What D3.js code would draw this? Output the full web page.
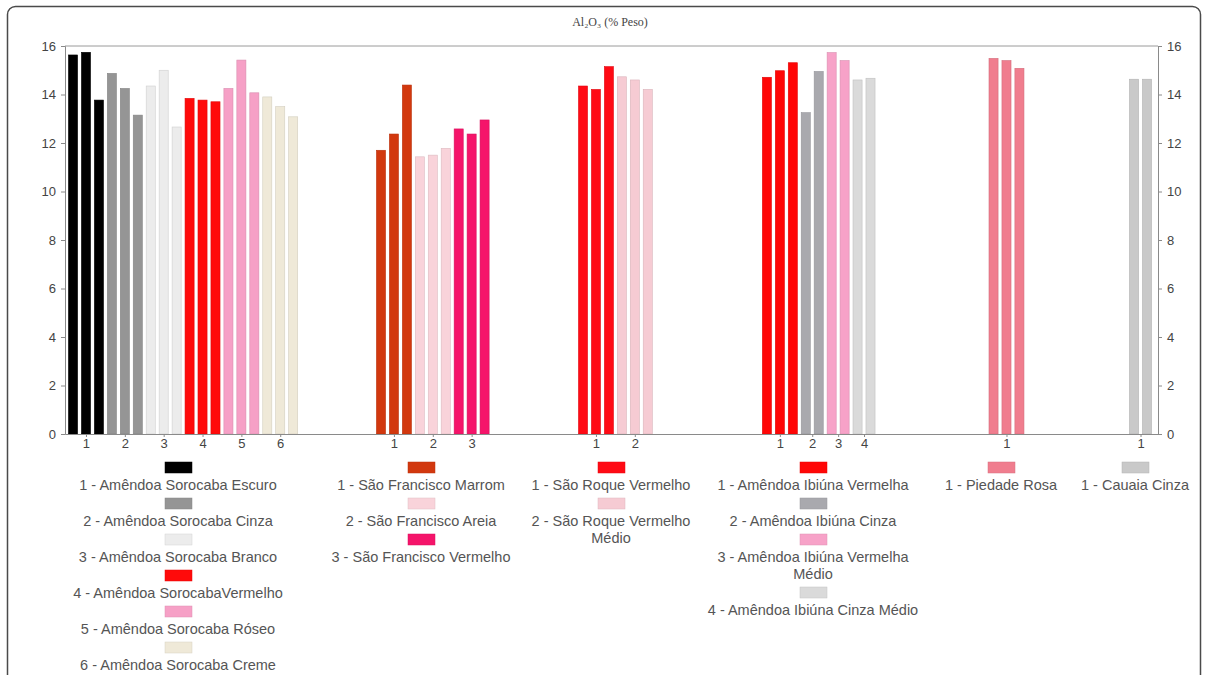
<!DOCTYPE html>
<html>
<head>
<meta charset="utf-8">
<script src="https://cdn.jsdelivr.net/npm/d3@7"></script>
<style>
  html, body { margin: 0; padding: 0; background: #fff; }
  svg { display: block; }
</style>
</head>
<body>
<svg id="chart" width="1207" height="675"></svg>
<script>
// ---------- DATA ----------
const chartTitle = "Al₂O₃ (% Peso)";
const yTicks = [0, 2, 4, 6, 8, 10, 12, 14, 16];

const groupNames = ["Sorocaba", "São Francisco", "São Roque", "Ibiúna", "Piedade", "Cauaia"];

const sorocabaLabels = ["1 - Amêndoa Sorocaba Escuro", "2 - Amêndoa Sorocaba Cinza", "3 - Amêndoa Sorocaba Branco",
                        "4 - Amêndoa SorocabaVermelho", "5 - Amêndoa Sorocaba Róseo", "6 - Amêndoa Sorocaba Creme"];
const sorocabaValues = [[15.63, 15.74, 13.77], [14.87, 14.25, 13.15], [14.35, 15.00, 12.66],
                        [13.84, 13.77, 13.70], [14.25, 15.42, 14.07], [13.90, 13.50, 13.08]];
const sorocabaColors = ["#000000", "#959595", "#ececec", "#ff0a0a", "#f6a0c6", "#efe9d8"];

const franciscoLabels = ["1 - São Francisco Marrom", "2 - São Francisco Areia", "3 - São Francisco Vermelho"];
const franciscoValues = [[11.70, 12.37, 14.39], [11.43, 11.50, 11.78], [12.58, 12.37, 12.95]];
const franciscoColors = ["#d2380e", "#f9d3da", "#f5146a"];

const roqueLabels = ["1 - São Roque Vermelho", "2 - São Roque Vermelho\nMédio"];
const roqueValues = [[14.35, 14.21, 15.15], [14.73, 14.60, 14.21]];
const roqueColors = ["#ff0a14", "#f6cbd3"];

const ibiunaLabels = ["1 - Amêndoa Ibiúna Vermelha", "2 - Amêndoa Ibiúna Cinza",
                      "3 - Amêndoa Ibiúna Vermelha\nMédio", "4 - Amêndoa Ibiúna Cinza Médio"];
const ibiunaValues = [[14.71, 14.98, 15.31], [13.25, 14.95], [15.73, 15.40], [14.60, 14.67]];
const ibiunaColors = ["#ff0606", "#a9a9ae", "#f7a2c8", "#dadada"];

const piedadeLabels = ["1 - Piedade Rosa"];
const piedadeValues = [[15.49, 15.40, 15.08]];
const piedadeColors = ["#f07d8e"];

const cauaiaLabels = ["1 - Cauaia Cinza"];
const cauaiaValues = [[14.63, 14.63]];
const cauaiaColors = ["#c9c9c9"];

// ---------- LAYOUT ----------
const groups = [
  { labels: sorocabaLabels, values: sorocabaValues, colors: sorocabaColors },
  { labels: franciscoLabels, values: franciscoValues, colors: franciscoColors },
  { labels: roqueLabels, values: roqueValues, colors: roqueColors },
  { labels: ibiunaLabels, values: ibiunaValues, colors: ibiunaColors },
  { labels: piedadeLabels, values: piedadeValues, colors: piedadeColors },
  { labels: cauaiaLabels, values: cauaiaValues, colors: cauaiaColors }
];
const groupStartSlot = [0.12, 23.9, 39.5, 53.7, 71.2, 82.05];
const legendCenterX = [178, 421, 611, 813, 1001, 1135];

const plot = { left: 65, right: 1158, top: 46, bottom: 434 };
const svg = d3.select("#chart");

// outer frame
svg.append("rect")
  .attr("x", 7.5).attr("y", 6.5).attr("width", 1193).attr("height", 700)
  .attr("rx", 8).attr("fill", "#fff").attr("stroke", "#4a4a4a").attr("stroke-width", 1.5);

const x = d3.scaleLinear().domain([0, 84.4]).range([plot.left, plot.right]);
const y = d3.scaleLinear().domain([0, 16]).range([plot.bottom, plot.top]);
const slotW = x(1) - x(0);
const barW = slotW * 0.7;

// title
svg.append("text")
  .attr("x", 610).attr("y", 26)
  .attr("text-anchor", "middle")
  .attr("font-family", "Liberation Serif, Times New Roman, serif")
  .attr("font-size", 12).attr("fill", "#444")
  .text(chartTitle);

// plot frame top line
svg.append("line").attr("x1", plot.left).attr("x2", plot.right)
  .attr("y1", plot.top).attr("y2", plot.top).attr("stroke", "#9a9a9a").attr("stroke-width", 1);

// bars
const bars = [];
const sampleTicks = [];
groups.forEach((g, gi) => {
  let slot = groupStartSlot[gi];
  g.values.forEach((vals, si) => {
    const start = slot;
    vals.forEach(v => {
      bars.push({ slot: slot + 0.5, value: v, color: g.colors[si] });
      slot += 1;
    });
    sampleTicks.push({ pos: (start + slot) / 2, label: String(si + 1) });
  });
});

svg.append("g").selectAll("rect").data(bars).join("rect")
  .attr("x", d => x(d.slot) - barW / 2)
  .attr("width", barW)
  .attr("y", d => y(d.value))
  .attr("height", d => y(0) - y(d.value))
  .attr("fill", d => d.color)
  .attr("stroke", d => d3.color(d.color).darker(0.35))
  .attr("stroke-width", 0.6);

// axes
const fontFam = "Liberation Sans, Arial, sans-serif";
const yLeft = svg.append("g").attr("transform", `translate(${plot.left},0)`)
  .call(d3.axisLeft(y).tickValues(yTicks).tickSize(4).tickPadding(5));
const yRight = svg.append("g").attr("transform", `translate(${plot.right},0)`)
  .call(d3.axisRight(y).tickValues(yTicks).tickSize(4).tickPadding(5));
[yLeft, yRight].forEach(a => {
  a.selectAll("path").attr("stroke", "#8a8a8a");
  a.selectAll("line").attr("stroke", "#8a8a8a");
  a.selectAll("text").attr("font-family", fontFam).attr("font-size", 13).attr("fill", "#444");
});

const xAxis = svg.append("g").attr("transform", `translate(0,${plot.bottom})`)
  .call(d3.axisBottom(x).tickValues(sampleTicks.map(d => d.pos))
    .tickFormat((d, i) => sampleTicks[i].label).tickSize(3).tickPadding(2).tickSizeOuter(0));
xAxis.select("path").attr("stroke", "#8a8a8a");
xAxis.selectAll("line").attr("stroke", "#8a8a8a");
xAxis.selectAll("text").attr("font-family", fontFam).attr("font-size", 13).attr("fill", "#444");

// legend
groups.forEach((g, gi) => {
  const cx = legendCenterX[gi];
  let top = 462;
  g.labels.forEach((lab, si) => {
    const lines = lab.split("\n");
    svg.append("rect")
      .attr("x", cx - 13).attr("y", top).attr("width", 27).attr("height", 11)
      .attr("fill", g.colors[si]).attr("stroke", d3.color(g.colors[si]).darker(0.3)).attr("stroke-width", 0.5);
    lines.forEach((ln, li) => {
      svg.append("text")
        .attr("x", cx).attr("y", top + 28 + li * 17)
        .attr("text-anchor", "middle")
        .attr("font-family", fontFam).attr("font-size", 14.5).attr("fill", "#555")
        .text(ln);
    });
    top += 36 + 17 * (lines.length - 1);
  });
});
</script>
</body>
</html>
